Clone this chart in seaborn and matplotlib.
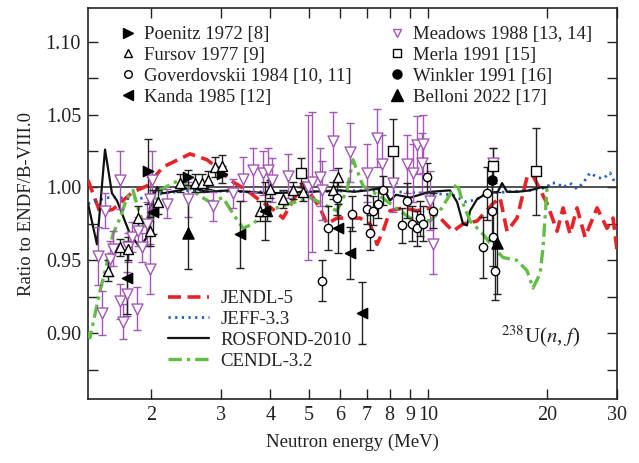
import numpy as np
import pandas as pd
import matplotlib
matplotlib.use("Agg")
import matplotlib.pyplot as plt
from matplotlib.lines import Line2D
import seaborn as sns

# ---------------- data ----------------
jendl_E = [1.385, 1.485, 1.601, 1.799, 1.951, 2.142, 2.506, 2.766, 2.983, 3.162, 3.491, 3.765, 4.06, 4.303,
           4.834, 5.336, 5.557, 5.89, 6.353, 6.734, 7.138, 7.435, 7.698, 8.016, 8.648, 9.38, 10.12, 10.91,
           11.56, 12.26, 13.30, 14.59, 15.20, 15.83, 16.78, 17.78, 18.41, 19.98, 21.18, 21.93, 22.84, 23.78,
           24.91, 26.72, 28.31, 29.32, 30.0]
jendl_v = [1.005, 0.983, 0.985, 0.997, 1.001, 1.014, 1.023, 1.019, 1.012, 1.005, 0.998, 0.991, 0.985, 0.979,
           1.003, 0.986, 0.975, 0.979, 0.979, 0.979, 0.975, 0.961, 0.970, 0.984, 0.986, 0.984, 0.986, 0.977,
           0.970, 0.975, 0.977, 0.989, 0.993, 0.970, 0.979, 1.007, 1.008, 0.989, 0.970, 0.986, 0.968, 0.986,
           0.966, 0.986, 0.972, 0.979, 0.957]

jeff_E = [1.385, 1.547, 1.668, 1.799, 1.951, 2.142, 2.5, 3.5, 5.0, 7.0, 10.0, 11.5, 12.5, 13.3, 14.0, 16.0,
          18.0, 20.0, 20.33, 21.18, 21.93, 22.84, 23.78, 24.62, 25.65, 26.72, 27.66, 28.81, 29.67, 30.0]
jeff_v = [0.989, 0.993, 0.993, 0.992, 0.993, 0.996, 0.998, 0.997, 0.997, 0.998, 0.996, 0.995, 0.990, 0.992,
          0.996, 0.997, 0.998, 1.000, 1.003, 1.003, 1.000, 1.003, 0.999, 1.003, 1.010, 1.007, 1.006, 1.010,
          1.003, 1.004]

rosf_E = [1.385, 1.459, 1.529, 1.592, 1.639, 1.768, 1.873, 1.951, 1.986, 2.068, 2.142, 2.364, 2.506, 2.766,
          3.162, 3.491, 4.0, 5.0, 6.0, 6.5, 7.0, 7.70, 8.016, 8.3, 9.0, 10.12, 11.36, 11.84, 12.26, 12.54,
          12.77, 13.30, 14.09, 15.0, 15.38, 15.83, 16.78, 18.09, 19.19, 20.0]
rosf_v = [0.989, 0.961, 1.026, 0.996, 0.991, 0.968, 0.959, 0.966, 0.986, 1.000, 0.996, 0.998, 1.000, 0.997,
          0.998, 0.997, 0.996, 0.997, 0.998, 0.997, 0.998, 1.000, 0.991, 0.995, 0.993, 0.997, 0.998, 0.990,
          0.975, 0.974, 0.984, 0.992, 0.996, 0.997, 1.003, 0.997, 0.997, 0.998, 1.000, 1.000]

cendl_E = [1.385, 1.401, 1.485, 1.547, 1.601, 1.668, 1.737, 1.799, 1.852, 1.929, 1.986, 2.021, 2.105, 2.271,
           2.364, 2.463, 2.656, 2.815, 3.035, 3.218, 3.411, 3.615, 3.921, 4.156, 4.483, 5.035, 5.89, 6.243,
           6.465, 6.852, 7.566, 9.006, 10.12, 10.72, 11.84, 12.26, 12.77, 13.77, 14.59, 15.47, 16.78, 17.78,
           18.41, 19.19, 19.52, 19.98]
cendl_v = [0.901, 0.897, 0.929, 0.948, 0.968, 0.979, 0.993, 0.998, 0.986, 0.972, 0.975, 0.986, 0.998, 1.003,
           1.005, 1.001, 0.994, 0.990, 0.993, 0.982, 0.972, 0.975, 0.984, 0.986, 0.989, 0.993, 0.984, 0.998,
           1.019, 1.001, 0.994, 0.979, 0.977, 0.984, 1.003, 0.989, 0.977, 0.968, 0.959, 0.952, 0.950, 0.943,
           0.931, 0.941, 0.959, 1.000]

poenitz_E = [1.96, 2.48, 3.02]
poenitz_v = [1.011, 1.007, 1.009]
poenitz_err = [0.022, 0.005, 0.006]

fursov_E = [1.556, 1.668, 1.747, 1.852, 1.986, 2.08, 2.364, 2.58, 2.687, 2.79, 2.89, 3.02, 3.765, 3.92,
            3.99, 4.30, 4.56, 4.83, 5.75, 5.92]
fursov_v = [0.943, 0.959, 0.958, 0.979, 0.970, 0.990, 1.003, 1.003, 1.003, 1.005, 1.014, 1.015, 0.984, 0.984,
            0.999, 0.992, 0.998, 0.997, 0.998, 1.007]
fursov_err = [0.007, 0.006, 0.008, 0.008, 0.01, 0.008, 0.006, 0.006, 0.006, 0.006, 0.007, 0.007, 0.007, 0.007,
              0.006, 0.006, 0.006, 0.006, 0.006, 0.006]

gover_E = [5.40, 5.59, 5.89, 6.43, 7.01, 7.14, 7.26, 7.48, 7.70, 8.60, 8.85, 9.11, 9.38, 9.55, 9.71, 9.94,
           10.29, 13.77, 14.09, 14.51, 14.59, 14.76]
gover_v = [0.936, 0.972, 0.993, 0.982, 0.985, 0.969, 0.984, 0.989, 0.998, 0.974, 0.991, 0.975, 0.972, 0.979,
           0.975, 1.007, 0.984, 0.959, 0.996, 0.984, 0.966, 0.943]
gover_err = [0.014, 0.015, 0.012, 0.012, 0.010, 0.012, 0.010, 0.010, 0.010, 0.012, 0.012, 0.012, 0.012, 0.012,
             0.012, 0.010, 0.012, 0.021, 0.018, 0.020, 0.020, 0.020]

kanda_E = [1.737, 2.021, 3.352, 3.88, 5.92, 6.35, 6.81]
kanda_v = [0.938, 0.983, 0.968, 0.984, 0.972, 0.955, 0.914]
kanda_err = [0.025, 0.015, 0.023, 0.02, 0.017, 0.018, 0.021]

meadows_E = [1.468, 1.502, 1.529, 1.574, 1.601, 1.668, 1.668, 1.697, 1.737, 1.747, 1.789, 1.841, 1.852, 1.895,
             1.951, 1.986, 1.986, 2.009, 2.193, 2.477, 2.865, 3.218, 3.411, 3.615, 3.832, 3.944, 4.037, 4.431,
             4.98, 5.08, 5.336, 5.398, 5.755, 6.353, 7.014, 7.435, 7.654, 8.157, 8.85, 9.166, 9.38, 9.656, 9.714,
             10.12, 10.29, 14.59]
meadows_v = [0.953, 0.914, 0.984, 0.951, 0.958, 1.005, 0.922, 0.908, 0.927, 0.959, 0.966, 0.917, 0.970, 0.959,
             0.975, 0.944, 0.992, 1.005, 0.989, 0.992, 0.987, 0.996, 1.006, 1.012, 1.010, 1.012, 1.005, 1.008,
             1.000, 1.004, 1.007, 0.998, 1.032, 1.024, 1.010, 1.034, 1.016, 1.003, 1.016, 1.010, 1.029, 1.017,
             1.030, 0.991, 0.961, 1.017]
meadows_err = [0.02, 0.015, 0.012, 0.012, 0.012, 0.02, 0.012, 0.012, 0.015, 0.01, 0.01, 0.015, 0.01, 0.01,
               0.015, 0.017, 0.015, 0.02, 0.01, 0.012, 0.01, 0.01, 0.015, 0.015, 0.015, 0.015, 0.015, 0.015,
               0.05, 0.048, 0.02, 0.02, 0.02, 0.02, 0.02, 0.02, 0.02, 0.02, 0.02, 0.02, 0.02, 0.02, 0.02,
               0.02, 0.02, 0.01]

merla_E = [4.778, 8.157, 14.59, 18.74]
merla_v = [1.010, 1.025, 1.015, 1.011]
merla_err = [0.01, 0.022, 0.012, 0.03]

winkler_E = [14.51]
winkler_v = [1.005]
winkler_err = [0.008]

belloni_E = [2.477, 14.94]
belloni_v = [0.969, 0.962]
belloni_err = [0.025, 0.035]

xticks = [2, 3, 4, 5, 6, 7, 8, 9, 10, 20, 30]
yticks = [0.90, 0.95, 1.00, 1.05, 1.10]

# ---------------- style ----------------
sns.set_theme(style="ticks")
plt.rcParams["font.family"] = ["Liberation Serif", "DejaVu Serif"]
plt.rcParams["mathtext.fontset"] = "stix"
plt.rcParams["axes.edgecolor"] = "#222222"
plt.rcParams["axes.linewidth"] = 1.2

fig = plt.figure(figsize=(6.39, 4.63), dpi=100)
ax = fig.add_axes([88 / 639, 1 - 399 / 463, (617 - 88) / 639, (399 - 8) / 463])

ax.set_xscale("log")
ax.set_xlim(1.385, 30)
ax.set_ylim(0.855, 1.123)

ax.axhline(1.0, color="#333333", lw=1.2, zorder=2)

red = "#E82328"
blue = "#1E5CC0"
green = "#62BD45"
purple = "#A356B5"

sns.lineplot(x=jendl_E, y=jendl_v, ax=ax, color=red, lw=2.6, linestyle=(0, (3.6, 1.8)),
             estimator=None, sort=False, zorder=3)
sns.lineplot(x=jeff_E, y=jeff_v, ax=ax, color=blue, lw=2.0, linestyle=(0, (0.8, 1.6)),
             estimator=None, sort=False, zorder=3)
sns.lineplot(x=rosf_E, y=rosf_v, ax=ax, color="#111111", lw=1.6, linestyle="-",
             estimator=None, sort=False, zorder=3)
sns.lineplot(x=cendl_E, y=cendl_v, ax=ax, color=green, lw=2.4, linestyle=(0, (4, 1.5, 1, 1.5)),
             estimator=None, sort=False, zorder=3)

def points(E, v, err, marker, face, edge, ecol, ms=48):
    ax.errorbar(E, v, yerr=err, fmt="none", ecolor=ecol, elinewidth=1.0, capsize=3, capthick=1.0, zorder=4)
    sns.scatterplot(x=E, y=v, ax=ax, marker=marker, s=ms, color=face, edgecolor=edge, linewidth=1.0, zorder=5)

points(meadows_E, meadows_v, meadows_err, "v", "white", purple, purple, ms=62)
points(poenitz_E, poenitz_v, poenitz_err, ">", "black", "black", "#222222", ms=55)
points(fursov_E, fursov_v, fursov_err, "^", "white", "black", "#222222", ms=52)
points(gover_E, gover_v, gover_err, "o", "white", "black", "#222222", ms=36)
points(kanda_E, kanda_v, kanda_err, "<", "black", "black", "#222222", ms=55)
points(merla_E, merla_v, merla_err, "s", "white", "black", "#222222", ms=42)
points(winkler_E, winkler_v, winkler_err, "o", "black", "black", "#222222", ms=44)
points(belloni_E, belloni_v, belloni_err, "^", "black", "black", "#222222", ms=64)

# ---------------- axes ----------------
ax.set_xticks(xticks)
ax.set_xticklabels([str(t) for t in xticks])
ax.xaxis.set_minor_locator(matplotlib.ticker.NullLocator())
ax.set_yticks(yticks)
ax.set_yticklabels([f"{t:.2f}" for t in yticks])
ax.yaxis.set_minor_locator(matplotlib.ticker.MultipleLocator(0.025))
ax.tick_params(which="both", direction="in", top=True, right=True, labelsize=14.5, colors="#222222",
               width=1.0, pad=5)
ax.tick_params(which="major", length=7)
ax.tick_params(which="minor", length=7)
ax.set_xlabel("Neutron energy (MeV)", fontsize=13.5, labelpad=6, color="#222222")
ax.set_ylabel("Ratio to ENDF/B-VIII.0", fontsize=13.5, labelpad=8, color="#222222")
for s in ax.spines.values():
    s.set_visible(True)

ax.text(15.3, 0.898, r"$^{238}$U($n$,$\ f$)", fontsize=15, color="#222222", va="center")

# ---------------- legends ----------------
def mk(marker, face, edge, ms=7):
    return Line2D([], [], ls="none", marker=marker, mfc=face, mec=edge, ms=ms, mew=1.0)

h1 = [mk(">", "black", "black"), mk("^", "white", "black", 6), mk("o", "white", "black", 5.5),
      mk("<", "black", "black")]
l1 = ["Poenitz 1972 [8]", "Fursov 1977 [9]", "Goverdovskii 1984 [10, 11]", "Kanda 1985 [12]"]
leg1 = ax.legend(h1, l1, loc="upper left", bbox_to_anchor=((119 - 88) / 529, (399 - 26) / 391),
                 frameon=False, fontsize=13.5, handlelength=1.0, handletextpad=0.35, labelspacing=0.2,
                 borderpad=0, borderaxespad=0)
for t in leg1.get_texts():
    t.set_color("#222222")
ax.add_artist(leg1)

h2 = [mk("v", "white", purple, 6), mk("s", "white", "black", 6), mk("o", "black", "black", 6.5),
      mk("^", "black", "black", 8)]
l2 = ["Meadows 1988 [13, 14]", "Merla 1991 [15]", "Winkler 1991 [16]", "Belloni 2022 [17]"]
leg2 = ax.legend(h2, l2, loc="upper left", bbox_to_anchor=((388 - 88) / 529, (399 - 26) / 391),
                 frameon=False, fontsize=13.5, handlelength=1.0, handletextpad=0.35, labelspacing=0.2,
                 borderpad=0, borderaxespad=0)
for t in leg2.get_texts():
    t.set_color("#222222")
ax.add_artist(leg2)

h3 = [Line2D([], [], color=red, lw=2.6, ls=(0, (3.6, 1.8))),
      Line2D([], [], color=blue, lw=2.0, ls=(0, (0.8, 1.6))),
      Line2D([], [], color="#111111", lw=1.6, ls="-"),
      Line2D([], [], color=green, lw=2.4, ls=(0, (4, 1.5, 1, 1.5)))]
l3 = ["JENDL-5", "JEFF-3.3", "ROSFOND-2010", "CENDL-3.2"]
leg3 = ax.legend(h3, l3, loc="upper left", bbox_to_anchor=((168 - 88) / 529, (399 - 290) / 391),
                 frameon=False, fontsize=13.5, handlelength=2.2, handletextpad=0.6, labelspacing=0.2,
                 borderpad=0, borderaxespad=0)
for t in leg3.get_texts():
    t.set_color("#222222")

fig.savefig("out.png", dpi=100)
